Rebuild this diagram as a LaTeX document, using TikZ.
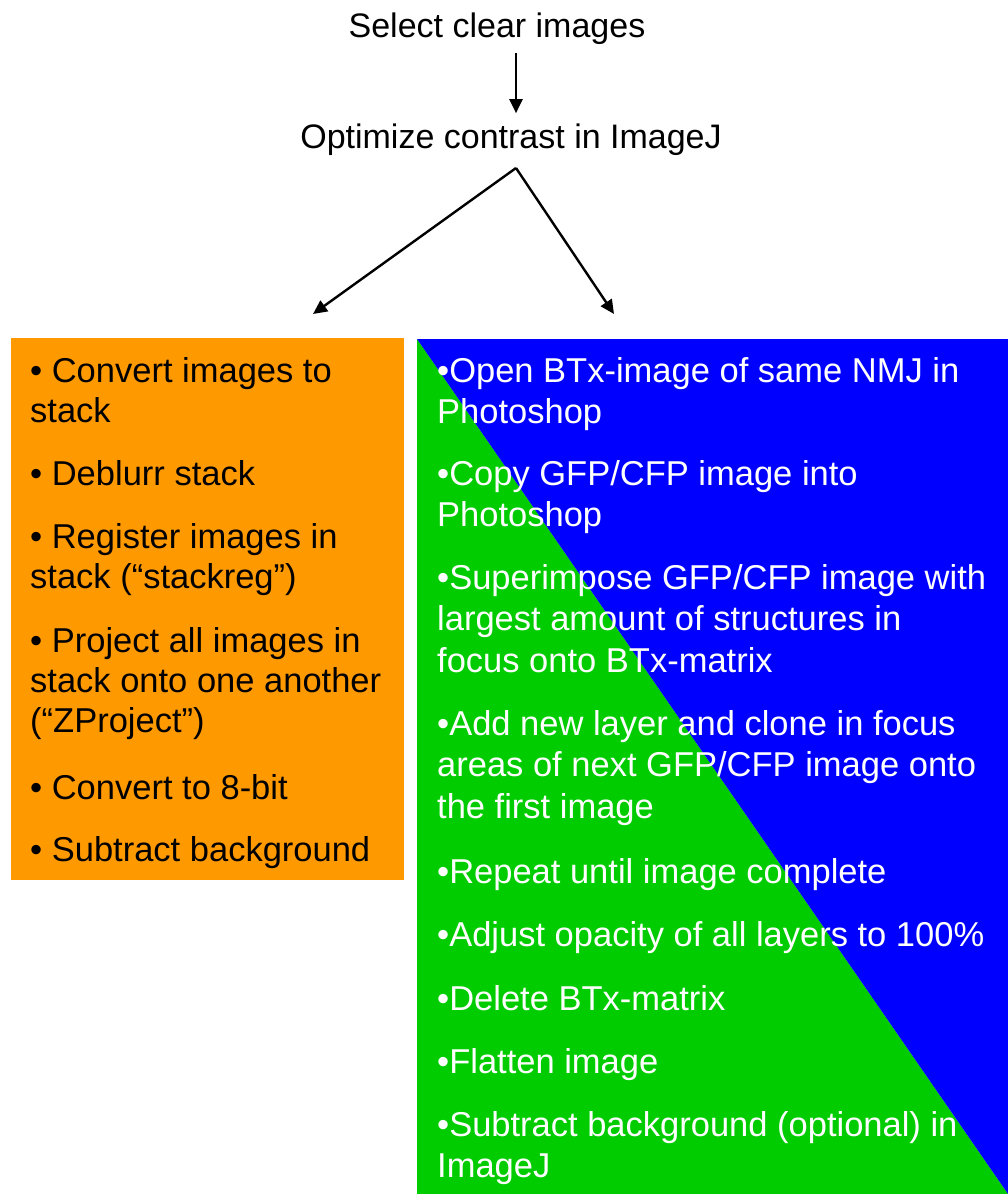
\documentclass[tikz,border=0pt]{standalone}
\usepackage{fontspec}
\setmainfont{Liberation Sans}
\usetikzlibrary{arrows.meta}
\definecolor{boxorange}{RGB}{255,153,0}
\definecolor{boxgreen}{RGB}{0,204,0}
\definecolor{boxblue}{RGB}{0,0,255}
\begin{document}
\begin{tikzpicture}[x=1pt,y=-1pt,
  toptext/.style={inner xsep=0pt,font=\fontsize{34}{41}\selectfont,text=black},
  arr/.style={line width=2.4pt,-{Triangle[length=14pt,width=13pt]}},
  litem/.style={anchor=base west,inner sep=0pt,align=left,text=black,font=\fontsize{34.5}{40}\selectfont},
  ritem/.style={anchor=base west,inner sep=0pt,align=left,text=white,font=\fontsize{34.5}{41.5}\selectfont},
]
\useasboundingbox (0,0) rectangle (1008,1194);

% boxes
\node[anchor=north west,fill=boxorange,draw=none,minimum width=393pt,minimum height=542pt,inner sep=0pt] (lbox) at (11,338) {};
\node[anchor=north west,draw=none,minimum width=591pt,minimum height=855pt,inner sep=0pt,
  path picture={
    \fill[boxgreen] (path picture bounding box.north west) -- (path picture bounding box.south east) -- (path picture bounding box.south west) -- cycle;
    \fill[boxblue] (path picture bounding box.north west) -- (path picture bounding box.north east) -- (path picture bounding box.south east) -- cycle;
  }] (rbox) at (417,339) {};

% top texts
\node[toptext,anchor=base,inner ysep=9pt] (sel) at (497,37) {Select clear images};
\node[toptext,anchor=base,inner ysep=10pt] (opt) at (511,148) {Optimize contrast in ImageJ};
\coordinate (fork) at (516,168);
\coordinate (tipL) at (313,314);
\coordinate (tipR) at (614,314);

\draw[arr] (sel.south -| fork) -- (opt.north -| fork);
\draw[arr] (fork) -- (tipL);
\draw[arr] (fork) -- (tipR);

% left items (anchor = baseline of last line)
\node[litem] (l1) at (30,422) {• Convert images to\\stack};
\node[litem] (l2) at (30,485) {• Deblurr stack};
\node[litem] (l3) at (30,588) {• Register images in\\stack (“stackreg”)};
\node[litem] (l4) at (30,732) {• Project all images in\\stack onto one another\\(“ZProject”)};
\node[litem] (l5) at (30,799) {• Convert to 8-bit};
\node[litem] (l6) at (30,861) {• Subtract background};

% right items (anchor = baseline of last line)
\node[ritem] (r1) at (437,423.5) {•Open BTx-image of same NMJ in\\Photoshop};
\node[ritem] (r2) at (437,526.5) {•Copy GFP/CFP image into\\Photoshop};
\node[ritem] (r3) at (437,672) {•Superimpose GFP/CFP image with\\largest amount of structures in\\focus onto BTx-matrix};
\node[ritem] (r4) at (437,818) {•Add new layer and clone in focus\\areas of next GFP/CFP image onto\\the first image};
\node[ritem] (r5) at (437,883) {•Repeat until image complete};
\node[ritem] (r6) at (437,946) {•Adjust opacity of all layers to 100\%};
\node[ritem] (r7) at (437,1010) {•Delete BTx-matrix};
\node[ritem] (r8) at (437,1073) {•Flatten image};
\node[ritem] (r9) at (437,1177.5) {•Subtract background (optional) in\\ImageJ};
\end{tikzpicture}
\end{document}
